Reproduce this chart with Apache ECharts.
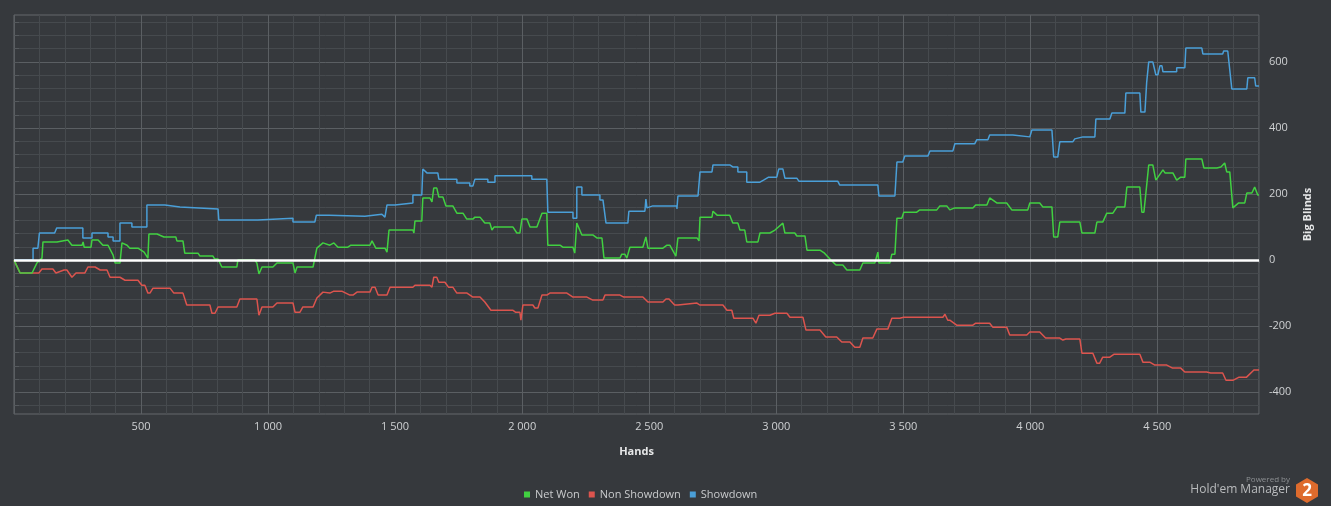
<!DOCTYPE html>
<html>
<head>
    <meta charset="UTF-8">
    <title>Hold'em Manager - Graph</title>
    <script src="https://cdn.jsdelivr.net/npm/echarts@6.0.0/dist/echarts.min.js"></script>
    <style>
        html, body { margin: 0; padding: 0; background: #36393d; }
        #graph { width: 1331px; height: 506px; }
    </style>
</head>
<body>
<div id="graph"></div>
<script type="text/javascript">
// values: [hand, big blinds]
var netWon = [
    [0,0],[24,-39],[71,-39],[90,-9],[110,6],[114,55],[169,55],[173,61],[212,61],[216,67],[228,45],
    [268,45],[272,55],[276,39],[303,39],[307,61],[331,61],[350,45],[370,45],[390,15],[398,-9],
    [417,-9],[425,52],[445,45],[456,36],[488,36],[512,24],[527,6],[531,79],[563,79],[590,70],
    [637,70],[641,58],[665,58],[672,21],[724,21],[732,12],[783,12],[790,3],[803,3],[818,-21],
    [877,-21],[881,0],[948,0],[956,-9],[964,-42],[976,-21],[1019,-21],[1035,-9],[1098,-9],
    [1106,-39],[1114,-21],[1177,-21],[1192,36],[1216,52],[1243,45],[1259,52],[1275,39],[1314,39],
    [1326,45],[1401,45],[1409,58],[1424,36],[1460,36],[1468,24],[1476,91],[1570,91],[1574,82],
    [1578,118],[1605,118],[1609,188],[1637,188],[1645,176],[1652,218],[1664,218],[1672,191],
    [1688,191],[1700,164],[1727,164],[1743,142],[1767,142],[1782,124],[1806,124],[1814,130],
    [1834,130],[1853,112],[1873,112],[1881,91],[1889,100],[1964,100],[1979,82],[1991,82],
    [1999,124],[2019,124],[2031,100],[2058,100],[2078,142],[2097,142],[2101,45],[2149,45],
    [2160,39],[2200,39],[2207,21],[2215,112],[2235,76],[2278,76],[2294,67],[2314,67],[2322,6],
    [2385,6],[2392,18],[2404,18],[2412,6],[2424,39],[2475,39],[2487,70],[2495,36],[2554,36],
    [2570,45],[2581,45],[2605,12],[2613,67],[2688,67],[2696,58],[2700,130],[2747,130],[2751,148],
    [2767,136],[2817,136],[2829,112],[2849,112],[2857,91],[2876,91],[2884,55],[2928,55],[2936,82],
    [2975,82],[2995,91],[3026,112],[3034,82],[3073,82],[3081,73],[3113,73],[3121,30],[3172,30],
    [3190,21],[3215,0],[3235,-15],[3262,-15],[3278,-30],[3329,-30],[3341,-9],[3388,-9],[3400,24],
    [3404,-9],[3447,-9],[3455,18],[3467,18],[3475,127],[3494,127],[3502,145],[3553,145],
    [3565,152],[3632,152],[3644,164],[3671,164],[3683,152],[3703,158],[3774,158],[3785,167],
    [3829,167],[3840,188],[3868,173],[3907,173],[3927,152],[3990,152],[3998,173],[4037,173],
    [4049,161],[4085,161],[4092,70],[4108,70],[4116,115],[4195,115],[4203,82],[4254,82],
    [4262,115],[4285,115],[4301,142],[4325,142],[4341,161],[4372,161],[4380,221],[4431,221],
    [4439,145],[4447,145],[4458,227],[4466,288],[4482,288],[4494,242],[4522,273],[4530,264],
    [4561,264],[4576,242],[4592,251],[4608,251],[4612,306],[4675,306],[4683,279],[4734,279],
    [4750,282],[4765,294],[4773,267],[4785,267],[4797,158],[4820,173],[4844,173],[4852,203],
    [4872,203],[4883,221],[4895,197],[4900,197]
];

var nonShowdown = [
    [0,0],[24,-39],[98,-39],[110,-27],[153,-27],[165,-39],[197,-30],[208,-30],[228,-52],[244,-39],
    [279,-39],[291,-21],[319,-21],[339,-30],[366,-30],[378,-52],[417,-52],[437,-61],[488,-61],
    [503,-76],[515,-76],[527,-100],[535,-100],[547,-85],[614,-85],[629,-100],[665,-100],
    [680,-136],[771,-136],[779,-161],[791,-161],[803,-142],[877,-142],[889,-118],[956,-118],
    [964,-167],[976,-142],[1019,-142],[1035,-130],[1098,-130],[1106,-158],[1125,-158],
    [1137,-142],[1177,-142],[1192,-115],[1216,-97],[1243,-100],[1259,-94],[1290,-94],[1322,-106],
    [1334,-106],[1350,-97],[1401,-97],[1409,-82],[1421,-82],[1433,-106],[1468,-106],[1480,-82],
    [1570,-82],[1578,-76],[1637,-76],[1645,-82],[1652,-52],[1664,-52],[1672,-67],[1696,-67],
    [1710,-82],[1727,-82],[1743,-100],[1783,-100],[1806,-112],[1834,-112],[1853,-127],
    [1877,-152],[1964,-152],[1975,-158],[1991,-158],[1995,-182],[2003,-136],[2042,-136],
    [2050,-145],[2062,-145],[2078,-106],[2097,-106],[2109,-100],[2176,-100],[2200,-112],
    [2255,-112],[2278,-121],[2318,-121],[2326,-106],[2385,-106],[2400,-112],[2475,-112],
    [2495,-127],[2554,-127],[2566,-118],[2578,-118],[2600,-136],[2613,-136],[2617,-130],
    [2688,-130],[2699,-136],[2790,-136],[2806,-152],[2825,-152],[2833,-176],[2908,-176],
    [2920,-191],[2932,-167],[2975,-167],[2995,-161],[3042,-161],[3054,-173],[3105,-173],
    [3117,-212],[3172,-212],[3195,-233],[3238,-233],[3258,-248],[3290,-248],[3309,-264],
    [3329,-264],[3341,-236],[3380,-236],[3396,-209],[3439,-209],[3455,-176],[3486,-176],
    [3502,-173],[3656,-173],[3664,-164],[3675,-182],[3683,-182],[3710,-197],[3774,-197],
    [3785,-191],[3840,-191],[3852,-203],[3907,-203],[3919,-227],[3986,-227],[3998,-218],
    [4037,-218],[4060,-236],[4116,-236],[4128,-242],[4140,-239],[4195,-239],[4203,-282],
    [4246,-282],[4262,-312],[4273,-312],[4285,-294],[4313,-294],[4330,-285],[4431,-285],
    [4443,-309],[4470,-309],[4490,-318],[4537,-318],[4560,-327],[4592,-327],[4608,-339],
    [4694,-339],[4710,-342],[4757,-342],[4770,-364],[4797,-364],[4820,-355],[4850,-355],
    [4880,-333],[4900,-333]
];

var showdown = [
    [0,0],[75,0],[75,36],[94,36],[100,82],[160,82],[168,97],[271,97],[271,67],[307,67],[307,82],
    [370,82],[370,70],[390,70],[390,58],[417,58],[417,112],[464,112],[464,100],[523,100],
    [523,167],[594,167],[594,161],[653,161],[653,155],[803,155],[806,121],[960,121],[960,127],
    [1098,127],[1098,115],[1184,115],[1190,136],[1240,136],[1240,133],[1381,133],[1381,139],
    [1448,139],[1460,130],[1468,167],[1499,167],[1499,173],[1570,173],[1570,197],[1605,197],
    [1609,276],[1625,264],[1668,264],[1672,245],[1743,245],[1743,233],[1794,233],[1794,224],
    [1806,224],[1814,245],[1865,245],[1865,236],[1893,236],[1893,255],[2038,255],[2038,245],
    [2097,245],[2101,145],[2200,145],[2200,127],[2215,127],[2215,221],[2235,221],[2235,197],
    [2306,197],[2306,182],[2318,182],[2330,112],[2416,112],[2420,148],[2483,148],[2487,185],
    [2491,158],[2514,164],[2609,164],[2609,155],[2613,194],[2692,194],[2700,267],[2747,267],
    [2751,288],[2817,288],[2829,282],[2849,282],[2849,267],[2884,267],[2884,236],[2936,236],
    [2950,242],[2970,251],[3002,251],[3010,276],[3026,276],[3034,248],[3081,248],[3089,239],
    [3242,239],[3250,227],[3400,227],[3404,194],[3467,194],[3475,297],[3498,297],[3506,315],
    [3597,315],[3605,330],[3695,330],[3703,352],[3781,352],[3789,364],[3833,364],[3840,379],
    [3931,379],[3931,373],[3998,373],[4006,394],[4085,394],[4092,312],[4108,312],[4116,358],
    [4167,358],[4175,367],[4207,373],[4254,373],[4258,427],[4313,427],[4321,445],[4372,445],
    [4376,506],[4431,506],[4435,448],[4451,448],[4458,539],[4466,600],[4482,600],[4494,561],
    [4502,561],[4510,588],[4518,588],[4522,570],[4576,570],[4576,582],[4608,582],[4612,642],
    [4675,642],[4679,624],[4757,624],[4761,633],[4777,633],[4793,518],[4852,518],[4856,552],
    [4883,552],[4887,527],[4900,527]
];

var seriesNames = ['Net Won', 'Non Showdown', 'Showdown'];
var seriesColors = ['#41d041', '#dc544e', '#4a9fd8'];
var bbTicks = [];
for (var b = -440; b <= 720; b += 40) bbTicks.push(b);
var bbLabels = [-400, -200, 0, 200, 400, 600];

function fmtHands(v) {
    if (v <= 0 || v % 500 !== 0 || v >= 4900) return '';
    if (v < 1000) return String(v);
    var r = String(v % 1000);
    while (r.length < 3) r = '0' + r;
    return Math.floor(v / 1000) + ' ' + r;
}

var minorLine = '#464a4e';
var majorLine = '#5b5f63';
var textFont = '"Open Sans", "DejaVu Sans", sans-serif';

var myChart = echarts.init(document.getElementById('graph'));

var option = {
    backgroundColor: '#36393d',
    animation: false,
    textStyle: { fontFamily: textFont },
    grid: {
        left: 14,
        right: 72,
        top: 15,
        bottom: 92,
        show: true,
        borderColor: '#64686c',
        borderWidth: 1
    },
    legend: {
        data: seriesNames,
        top: 484,
        left: 519,
        icon: 'rect',
        itemWidth: 6,
        itemHeight: 6,
        itemGap: 9,
        textStyle: { color: '#c9cbcd', fontSize: 11, fontFamily: textFont }
    },
    xAxis: {
        type: 'value',
        min: 0,
        max: 4900,
        interval: 100,
        name: 'Hands',
        nameLocation: 'middle',
        nameGap: 32,
        nameTextStyle: { color: '#e6e7e8', fontWeight: 'bold', fontSize: 11 },
        axisLine: { show: false },
        axisTick: { show: true, length: 3, lineStyle: { color: '#5b5f63' } },
        axisLabel: { color: '#cfd1d3', fontSize: 11, margin: 7, formatter: fmtHands },
        splitLine: {
            show: true,
            lineStyle: { color: [majorLine, minorLine, minorLine, minorLine, minorLine], width: 1 }
        }
    },
    yAxis: {
        type: 'value',
        position: 'right',
        min: -466,
        max: 742,
        name: 'Big Blinds',
        nameLocation: 'middle',
        nameRotate: 90,
        nameGap: 38,
        nameTextStyle: { color: '#e6e7e8', fontWeight: 'bold', fontSize: 11 },
        axisLine: { show: false },
        axisTick: { show: true, length: 5, customValues: bbTicks, lineStyle: { color: '#55595d' } },
        axisLabel: { color: '#cfd1d3', fontSize: 11, margin: 10, customValues: bbLabels },
        splitLine: {
            show: true,
            lineStyle: { color: [minorLine, majorLine, minorLine, minorLine, minorLine], width: 1 }
        }
    },
    series: [
        {
            name: seriesNames[0],
            type: 'line',
            data: netWon,
            color: seriesColors[0],
            symbol: 'none',
            lineStyle: { width: 1.5 },
            z: 3
        },
        {
            name: seriesNames[1],
            type: 'line',
            data: nonShowdown,
            color: seriesColors[1],
            symbol: 'none',
            lineStyle: { width: 1.5 },
            z: 2
        },
        {
            name: seriesNames[2],
            type: 'line',
            data: showdown,
            color: seriesColors[2],
            symbol: 'none',
            lineStyle: { width: 1.5 },
            z: 2,
            markLine: {
                silent: true,
                symbol: 'none',
                label: { show: false },
                lineStyle: { color: '#ffffff', width: 2.5, type: 'solid' },
                data: [{ yAxis: 0 }],
                z: 5
            }
        }
    ],
    graphic: [
        {
            type: 'text',
            right: 41,
            top: 476,
            style: { text: 'Powered by', fill: '#8d9093', fontSize: 8, fontFamily: textFont }
        },
        {
            type: 'text',
            right: 41,
            top: 484,
            style: { text: "Hold'em Manager", fill: '#b9bbbd', fontSize: 12, fontFamily: textFont }
        },
        {
            type: 'polygon',
            shape: { points: [[1307, 478], [1318, 484.5], [1318, 496.5], [1307, 503], [1296, 496.5], [1296, 484.5]] },
            style: { fill: '#de6b2d' }
        },
        {
            type: 'text',
            x: 1307,
            y: 491,
            style: {
                text: '2', fill: '#ffffff', fontSize: 17, fontWeight: 'bold',
                align: 'center', verticalAlign: 'middle', fontFamily: textFont
            }
        }
    ]
};

myChart.setOption(option);
</script>
</body>
</html>
